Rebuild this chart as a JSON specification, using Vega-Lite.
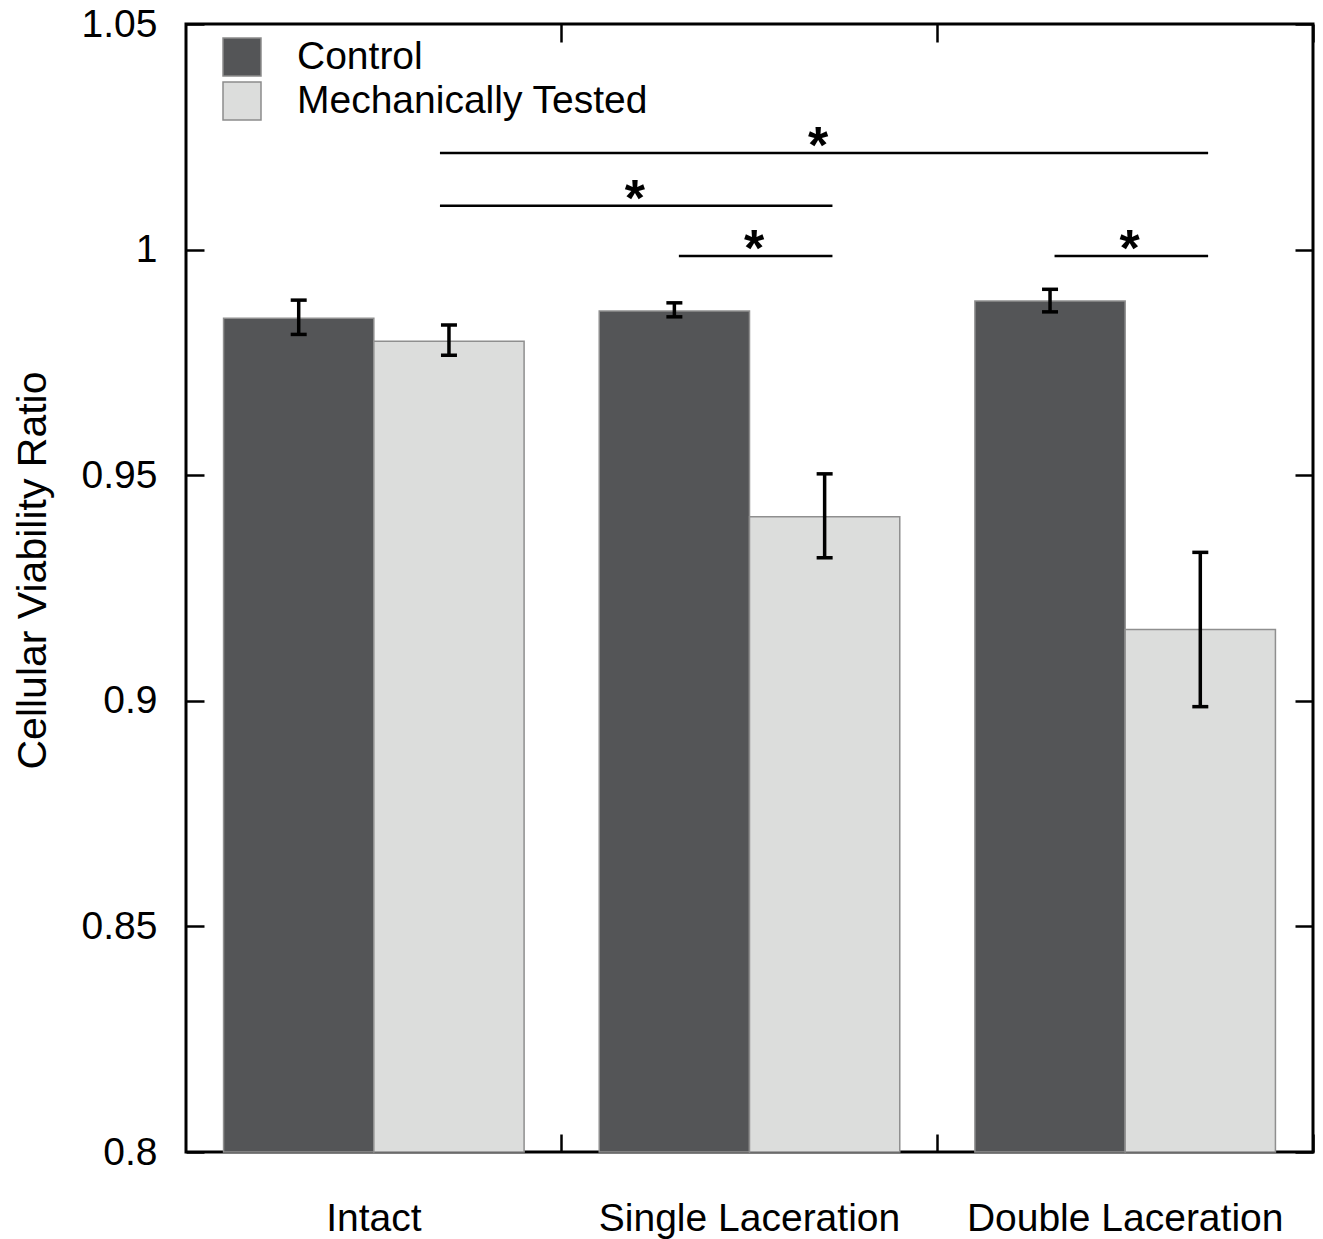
{
  "$schema": "https://vega.github.io/schema/vega-lite/v6.json",
  "width": 1127,
  "height": 1128,
  "autosize": {"type": "none"},
  "padding": {"left": 186, "top": 24, "right": 10, "bottom": 87},
  "background": "white",
  "config": {
    "view": {"stroke": "black", "strokeWidth": 3},
    "font": "Liberation Sans",
    "axis": {
      "labelFont": "Liberation Sans", "labelFontSize": 39, "labelColor": "black",
      "tickColor": "black", "tickWidth": 2.5, "grid": false, "domain": false,
      "titleFont": "Liberation Sans", "titleFontSize": 41, "titleColor": "black", "titleFontWeight": "normal"
    }
  },
  "datasets": {
    "bars": [
      {"condition": "Intact", "group": "Control", "mean": 0.9848, "lo": 0.9812, "hi": 0.9888},
      {"condition": "Intact", "group": "Mechanically Tested", "mean": 0.9797, "lo": 0.9766, "hi": 0.9833},
      {"condition": "Single Laceration", "group": "Control", "mean": 0.9864, "lo": 0.9851, "hi": 0.9882},
      {"condition": "Single Laceration", "group": "Mechanically Tested", "mean": 0.9408, "lo": 0.9317, "hi": 0.9503},
      {"condition": "Double Laceration", "group": "Control", "mean": 0.9886, "lo": 0.9862, "hi": 0.9912},
      {"condition": "Double Laceration", "group": "Mechanically Tested", "mean": 0.9158, "lo": 0.8987, "hi": 0.9329}
    ],
    "brackets": [
      {"from": "Intact", "to": "Double Laceration", "level": 1.0214, "label": "*", "kind": "across"},
      {"from": "Intact", "to": "Single Laceration", "level": 1.0097, "label": "*", "kind": "across"},
      {"from": "Single Laceration", "to": "Single Laceration", "level": 0.9986, "label": "*", "kind": "within"},
      {"from": "Double Laceration", "to": "Double Laceration", "level": 0.9986, "label": "*", "kind": "within"}
    ]
  },
  "layer": [
    {
      "data": {"name": "bars"},
      "mark": {"type": "bar", "stroke": "#8f8f8f", "strokeWidth": 1.5},
      "encoding": {
        "x": {
          "field": "condition", "type": "nominal",
          "scale": {"domain": ["Intact", "Single Laceration", "Double Laceration"], "paddingInner": 0.2, "paddingOuter": 0.1},
          "axis": {"orient": "bottom", "title": null, "labelAngle": 0, "ticks": false, "labelPadding": 47, "labelLimit": 1000}
        },
        "xOffset": {"field": "group", "type": "nominal", "scale": {"domain": ["Control", "Mechanically Tested"]}},
        "y": {
          "field": "mean", "type": "quantitative",
          "scale": {"domain": [0.8, 1.05], "zero": false, "nice": false},
          "axis": {
            "orient": "left", "values": [0.8, 0.85, 0.9, 0.95, 1, 1.05], "format": "~g",
            "tickSize": -18, "labelPadding": 47,
            "title": "Cellular Viability Ratio", "titleX": -153, "titleY": 546, "titleAngle": 270,
            "titleAlign": "center", "titleBaseline": "middle"
          }
        },
        "y2": {"datum": 0.8},
        "fill": {
          "field": "group", "type": "nominal",
          "scale": {"domain": ["Control", "Mechanically Tested"], "range": ["#545557", "#dcdddc"]},
          "legend": {
            "title": null, "orient": "none", "legendX": 36, "legendY": 13,
            "symbolType": "square", "symbolSize": 1444, "symbolStrokeColor": "#8c8c8c", "symbolStrokeWidth": 1.5,
            "symbolOpacity": 1, "labelFontSize": 39, "labelFont": "Liberation Sans", "labelColor": "black",
            "labelOffset": 35, "rowPadding": 0, "padding": 0, "labelLimit": 1000
          }
        }
      }
    },
    {
      "data": {"name": "bars"},
      "mark": {"type": "rule", "strokeWidth": 3.5, "color": "black"},
      "encoding": {
        "x": {
          "field": "condition", "type": "nominal",
          "scale": {"domain": ["Intact", "Single Laceration", "Double Laceration"], "paddingInner": 0.2, "paddingOuter": 0.1},
          "axis": {"orient": "top", "labels": false, "bandPosition": 1.125, "tickSize": -18, "title": null}
        },
        "xOffset": {"field": "group", "type": "nominal", "scale": {"domain": ["Control", "Mechanically Tested"]}},
        "y": {
          "field": "lo", "type": "quantitative",
          "scale": {"domain": [0.8, 1.05], "zero": false, "nice": false},
          "axis": {"orient": "right", "labels": false, "values": [0.8, 0.85, 0.9, 0.95, 1, 1.05], "tickSize": -18, "title": null}
        },
        "y2": {"field": "hi"}
      }
    },
    {
      "data": {"name": "bars"},
      "mark": {"type": "tick", "orient": "horizontal", "size": 16, "thickness": 3.5, "color": "black", "opacity": 1},
      "encoding": {
        "x": {
          "field": "condition", "type": "nominal",
          "scale": {"domain": ["Intact", "Single Laceration", "Double Laceration"], "paddingInner": 0.2, "paddingOuter": 0.1},
          "axis": {"orient": "bottom", "labels": false, "bandPosition": 1.125, "tickSize": -18, "title": null}
        },
        "xOffset": {"field": "group", "type": "nominal", "scale": {"domain": ["Control", "Mechanically Tested"]}},
        "y": {"field": "lo", "type": "quantitative", "scale": {"domain": [0.8, 1.05], "zero": false, "nice": false}, "axis": null}
      }
    },
    {
      "data": {"name": "bars"},
      "mark": {"type": "tick", "orient": "horizontal", "size": 16, "thickness": 3.5, "color": "black", "opacity": 1},
      "encoding": {
        "x": {"field": "condition", "type": "nominal", "scale": {"domain": ["Intact", "Single Laceration", "Double Laceration"], "paddingInner": 0.2, "paddingOuter": 0.1}, "axis": null},
        "xOffset": {"field": "group", "type": "nominal", "scale": {"domain": ["Control", "Mechanically Tested"]}},
        "y": {"field": "hi", "type": "quantitative", "scale": {"domain": [0.8, 1.05], "zero": false, "nice": false}, "axis": null}
      }
    },
    {
      "data": {"name": "brackets"},
      "transform": [{"filter": "datum.kind === 'across'"}],
      "mark": {"type": "rule", "strokeWidth": 2.5, "color": "black"},
      "encoding": {
        "x": {"field": "from", "type": "nominal", "bandPosition": 0.72, "scale": {"domain": ["Intact", "Single Laceration", "Double Laceration"], "paddingInner": 0.2, "paddingOuter": 0.1}, "axis": null},
        "x2": {"field": "to", "bandPosition": 0.776},
        "y": {"field": "level", "type": "quantitative", "scale": {"domain": [0.8, 1.05], "zero": false, "nice": false}, "axis": null}
      }
    },
    {
      "data": {"name": "brackets"},
      "transform": [{"filter": "datum.kind === 'within'"}],
      "mark": {"type": "rule", "strokeWidth": 2.5, "color": "black"},
      "encoding": {
        "x": {"field": "from", "type": "nominal", "bandPosition": 0.265, "scale": {"domain": ["Intact", "Single Laceration", "Double Laceration"], "paddingInner": 0.2, "paddingOuter": 0.1}, "axis": null},
        "x2": {"field": "to", "bandPosition": 0.776},
        "y": {"field": "level", "type": "quantitative", "scale": {"domain": [0.8, 1.05], "zero": false, "nice": false}, "axis": null}
      }
    },
    {
      "data": {"name": "brackets"},
      "transform": [{"filter": "datum.kind === 'across' && datum.to === 'Double Laceration'"}],
      "mark": {"type": "text", "fontSize": 52, "fontWeight": "bold", "baseline": "alphabetic", "dy": 10, "color": "black", "font": "Liberation Sans"},
      "encoding": {
        "x": {"field": "from", "type": "nominal", "bandPosition": 1.978, "scale": {"domain": ["Intact", "Single Laceration", "Double Laceration"], "paddingInner": 0.2, "paddingOuter": 0.1}, "axis": null},
        "y": {"field": "level", "type": "quantitative", "scale": {"domain": [0.8, 1.05], "zero": false, "nice": false}, "axis": null},
        "text": {"field": "label"}
      }
    },
    {
      "data": {"name": "brackets"},
      "transform": [{"filter": "datum.kind === 'across' && datum.to === 'Single Laceration'"}],
      "mark": {"type": "text", "fontSize": 52, "fontWeight": "bold", "baseline": "alphabetic", "dy": 10, "color": "black", "font": "Liberation Sans"},
      "encoding": {
        "x": {"field": "from", "type": "nominal", "bandPosition": 1.369, "scale": {"domain": ["Intact", "Single Laceration", "Double Laceration"], "paddingInner": 0.2, "paddingOuter": 0.1}, "axis": null},
        "y": {"field": "level", "type": "quantitative", "scale": {"domain": [0.8, 1.05], "zero": false, "nice": false}, "axis": null},
        "text": {"field": "label"}
      }
    },
    {
      "data": {"name": "brackets"},
      "transform": [{"filter": "datum.kind === 'within'"}],
      "mark": {"type": "text", "fontSize": 52, "fontWeight": "bold", "baseline": "alphabetic", "dy": 10, "color": "black", "font": "Liberation Sans"},
      "encoding": {
        "x": {"field": "to", "type": "nominal", "bandPosition": 0.515, "scale": {"domain": ["Intact", "Single Laceration", "Double Laceration"], "paddingInner": 0.2, "paddingOuter": 0.1}, "axis": null},
        "y": {"field": "level", "type": "quantitative", "scale": {"domain": [0.8, 1.05], "zero": false, "nice": false}, "axis": null},
        "text": {"field": "label"}
      }
    }
  ],
  "resolve": {"axis": {"x": "independent", "y": "independent"}}
}
